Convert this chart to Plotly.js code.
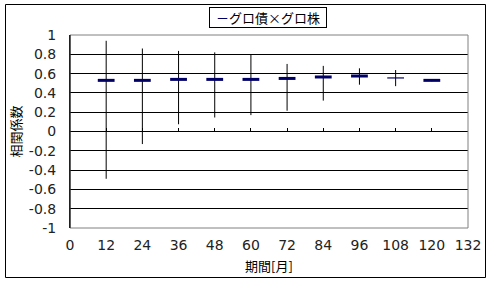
<!DOCTYPE html>
<html>
<head>
<meta charset="utf-8">
<script src="https://cdn.plot.ly/plotly-3.0.1.min.js"></script>
<style>
html,body{margin:0;padding:0;background:#fff;}
#chart{width:491px;height:283px;}
</style>
</head>
<body>
<div id="chart"></div>
<script>
// Data
const periods = [12, 24, 36, 48, 60, 72, 84, 96, 108, 120];
const corrMean = [0.53, 0.53, 0.54, 0.54, 0.54, 0.55, 0.565, 0.575, 0.555, 0.53];
const corrHigh = [0.94, 0.86, 0.835, 0.82, 0.80, 0.70, 0.68, 0.655, 0.637, 0.54];
const corrLow  = [-0.49, -0.13, 0.075, 0.145, 0.17, 0.215, 0.32, 0.485, 0.47, 0.52];
const xTicks = [0, 12, 24, 36, 48, 60, 72, 84, 96, 108, 120, 132];
const yTicks = [-1, -0.8, -0.6, -0.4, -0.2, 0, 0.2, 0.4, 0.6, 0.8, 1];
const seriesName = 'グロ債×グロ株';
const xTitle = '期間[月]';
const yTitle = '相関係数';

const errPlus = corrHigh.map((h, i) => h - corrMean[i]);
const errMinus = corrMean.map((m, i) => m - corrLow[i]);

const JP = 'Noto Sans CJK JP, sans-serif';
const NUM = 'DejaVu Sans, sans-serif';

const traces = [
  {
    type: 'scatter',
    mode: 'markers',
    name: seriesName,
    x: periods,
    y: corrMean,
    showlegend: false,
    marker: {
      symbol: 'line-ew',
      size: 12,
      color: '#000066',
      line: {color: '#000066', width: [3,3,3,3,3,3,3,3,1.2,3]}
    },
    error_y: {
      type: 'data',
      symmetric: false,
      array: errPlus,
      arrayminus: errMinus,
      color: '#000000',
      thickness: 1,
      width: 0
    }
  },
  {
    type: 'scatter',
    mode: 'markers',
    x: xTicks,
    y: xTicks.map(() => 0),
    xaxis: 'x2',
    yaxis: 'y',
    marker: {opacity: 0},
    showlegend: false,
    hoverinfo: 'skip'
  }
];

const layout = {
  width: 491,
  height: 283,
  margin: {l: 70, r: 23, t: 35, b: 55},
  paper_bgcolor: '#ffffff',
  plot_bgcolor: '#ffffff',
  font: {family: JP, size: 13, color: '#000'},
  showlegend: false,
  xaxis: {
    range: [0, 132],
    tickvals: xTicks,
    ticktext: xTicks.map(String),
    showgrid: false,
    zeroline: false,
    showline: false,
    ticks: '',
    ticklabelstandoff: 7,
    tickfont: {family: NUM, size: 14, color: '#222'},
    title: {text: xTitle, font: {family: JP, size: 13, color: '#000'}, standoff: 9}
  },
  xaxis2: {
    overlaying: 'x',
    anchor: 'free',
    position: 0.5,
    range: [0, 132],
    tickvals: xTicks,
    showticklabels: false,
    ticks: 'inside',
    ticklen: 4,
    tickcolor: '#000',
    tickwidth: 1,
    showgrid: false,
    zeroline: false,
    showline: false
  },
  yaxis: {
    range: [-1, 1],
    tickvals: yTicks,
    ticktext: yTicks.map(v => String(Math.round(v * 10) / 10)),
    showgrid: true,
    gridcolor: '#000',
    gridwidth: 1,
    zeroline: true,
    zerolinecolor: '#000',
    zerolinewidth: 1,
    showline: true,
    linecolor: '#000',
    linewidth: 1,
    ticks: '',
    ticklabelstandoff: 10,
    tickfont: {family: NUM, size: 14, color: '#222'},
    title: {text: yTitle, font: {family: JP, size: 13, color: '#000'}, standoff: 4}
  },
  annotations: [
    {
      xref: 'paper', yref: 'paper',
      x: 0.4987, y: 1.0907, xanchor: 'center', yanchor: 'middle',
      text: '<span style="color:#000066">－</span>' + seriesName,
      showarrow: false,
      font: {family: JP, size: 13, color: '#000'},
      bordercolor: '#000', borderwidth: 1, borderpad: 1,
      width: 114, height: 17,
      bgcolor: '#fff'
    }
  ],
  shapes: [
    {type: 'rect', xref: 'paper', yref: 'paper', x0: 0, x1: 1, y0: 0, y1: 1,
     line: {color: '#808080', width: 1}, layer: 'above'},
    {type: 'line', xref: 'paper', yref: 'paper', x0: 0, x1: 0, y0: 0, y1: 1,
     line: {color: '#000', width: 1}, layer: 'above'},
    {type: 'rect', xref: 'paper', yref: 'paper',
     x0: (5.5 - 70) / 398, x1: (485.5 - 70) / 398,
     y0: (228 - 277.5) / 193, y1: (228 - 4.5) / 193,
     line: {color: '#000', width: 1}, layer: 'below'}
  ]
};

Plotly.newPlot('chart', traces, layout, {staticPlot: true, displayModeBar: false});
</script>
</body>
</html>
